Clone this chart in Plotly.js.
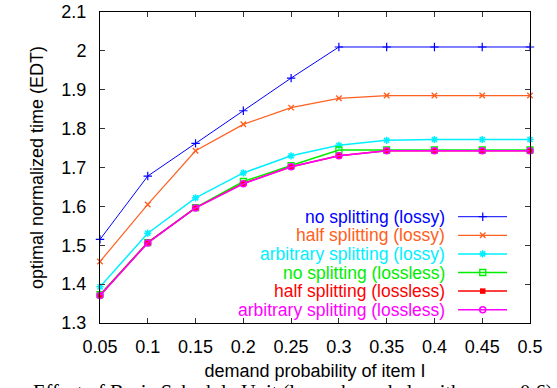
<!DOCTYPE html>
<html>
<head>
<meta charset="utf-8">
<script src="https://cdn.plot.ly/plotly-3.0.1.min.js"></script>
<style>html,body{margin:0;padding:0;background:#fff;}#chart{width:557px;height:388px;}</style>
</head>
<body>
<div id="chart"></div>
<script>
// ---- data ----
const demandProb = [0.05, 0.1, 0.15, 0.2, 0.25, 0.3, 0.35, 0.4, 0.45, 0.5];
const noSplitLossy        = [1.515, 1.678, 1.762, 1.846, 1.930, 2.010, 2.010, 2.010, 2.010, 2.010];
const halfSplitLossy      = [1.458, 1.605, 1.743, 1.811, 1.854, 1.878, 1.885, 1.885, 1.885, 1.885];
const arbSplitLossy       = [1.393, 1.531, 1.622, 1.686, 1.730, 1.757, 1.770, 1.772, 1.772, 1.772];
const noSplitLossless     = [1.373, 1.507, 1.597, 1.664, 1.705, 1.745, 1.745, 1.745, 1.745, 1.745];
const halfSplitLossless   = [1.371, 1.507, 1.596, 1.659, 1.702, 1.730, 1.743, 1.743, 1.743, 1.743];
const arbSplitLossless    = [1.371, 1.506, 1.596, 1.658, 1.702, 1.730, 1.743, 1.743, 1.743, 1.743];
const seriesNames = ["no splitting (lossy)", "half splitting (lossy)", "arbitrary splitting (lossy)",
                     "no splitting (lossless)", "half splitting (lossless)", "arbitrary splitting (lossless)"];
const xTickVals = [0.05, 0.1, 0.15, 0.2, 0.25, 0.3, 0.35, 0.4, 0.45, 0.5];
const xTickText = ["0.05", "0.1", "0.15", "0.2", "0.25", "0.3", "0.35", "0.4", "0.45", "0.5"];
const yTickVals = [1.3, 1.4, 1.5, 1.6, 1.7, 1.8, 1.9, 2.0, 2.1];
const yTickText = ["1.3", "1.4", "1.5", "1.6", "1.7", "1.8", "1.9", "2", "2.1"];
const xTitle = "demand probability of item I";
const yTitle = "optimal normalized time (EDT)";
const caption = "Effect of Basic Schedule Unit (lower bound algorithm, \u03b1 = 0.6)";

// ---- styles ----
const allValues = [noSplitLossy, halfSplitLossy, arbSplitLossy, noSplitLossless, halfSplitLossless, arbSplitLossless];
const styles = [
  {color: "#0000ff", width: 1,   symbol: "cross-thin-open",  size: 6, mlw: 1.2},
  {color: "#ff6020", width: 1.2, symbol: "x-thin-open",      size: 5.5, mlw: 1.4},
  {color: "#00f0ff", width: 1.5, symbol: "asterisk-open",    size: 6, mlw: 1.5},
  {color: "#00ee00", width: 1.5, symbol: "square-open",      size: 6, mlw: 1.3},
  {color: "#ff0000", width: 1.5, symbol: "square",           size: 5.5, mlw: 0},
  {color: "#ff00ff", width: 1.5, symbol: "circle-open",      size: 6, mlw: 1.5}
];

const FONT = "Liberation Sans, Arial, sans-serif";
const FS = 18;
const KEY_FS = 17.5;
const traces = [];
allValues.forEach((vals, i) => {
  const s = styles[i];
  traces.push({
    x: demandProb, y: vals, type: "scatter", mode: "lines+markers", name: seriesNames[i],
    line: {color: s.color, width: s.width},
    marker: {symbol: s.symbol, size: s.size, color: s.color, line: {color: s.color, width: s.mlw}},
    showlegend: false, hoverinfo: "skip", cliponaxis: false
  });
});

// custom gnuplot-style key (text right-aligned, sample on the right), drawn on a pixel overlay axis
const plotL = 99.5, plotR = 530, plotT = 12, plotB = 323;
const keyRows = [216.7, 235.3, 253.9, 272.5, 291.1, 309.7];
const keyTextRight = 445.7, keyLineL = 458, keyLineR = 507, keyMark = 482.7;
const annotations = [];
seriesNames.forEach((nm, i) => {
  const s = styles[i];
  traces.push({
    x: [keyLineL, keyMark, keyLineR], y: [keyRows[i], keyRows[i], keyRows[i]],
    xaxis: "x2", yaxis: "y2", type: "scatter", mode: "lines+markers", showlegend: false, hoverinfo: "skip",
    line: {color: s.color, width: s.width},
    marker: {symbol: s.symbol, size: s.size, color: s.color, opacity: [0, 1, 0], line: {color: s.color, width: s.mlw}}
  });
  annotations.push({
    xref: "x2", yref: "y2", x: keyTextRight, y: keyRows[i], xanchor: "right", yanchor: "middle",
    text: nm, showarrow: false, borderpad: 0, font: {family: FONT, size: KEY_FS, color: s.color}
  });
});
annotations.push({
  xref: "paper", yref: "paper", x: (30 - plotL) / (plotR - plotL), y: (plotB - 379) / (plotB - plotT),
  xanchor: "left", yanchor: "top", text: caption, showarrow: false,
  font: {family: "Liberation Serif, Times New Roman, serif", size: 20.5, color: "#000"}
});

const axisCommon = {
  showgrid: false, zeroline: false, showline: true, linecolor: "#000", linewidth: 1,
  mirror: "allticks", ticks: "inside", ticklen: 5, tickwidth: 1, tickcolor: "#333",
  tickfont: {family: FONT, size: FS, color: "#000"}, fixedrange: true
};

const layout = {
  width: 557, height: 388,
  margin: {l: plotL, r: 557 - plotR, t: plotT, b: 388 - plotB, pad: 0},
  paper_bgcolor: "#fff", plot_bgcolor: "#fff",
  showlegend: false,
  xaxis: Object.assign({}, axisCommon, {
    range: [0.05, 0.5], tickvals: xTickVals, ticktext: xTickText, ticklabelstandoff: 7,
    title: {text: xTitle, font: {family: FONT, size: FS, color: "#000"}, standoff: 8}
  }),
  yaxis: Object.assign({}, axisCommon, {
    range: [1.3, 2.1], tickvals: yTickVals, ticktext: yTickText, ticklabelstandoff: 9,
    title: {text: yTitle, font: {family: FONT, size: FS, color: "#000"}, standoff: 13}
  }),
  xaxis2: {overlaying: "x", range: [plotL, plotR], visible: false, fixedrange: true},
  yaxis2: {overlaying: "y", range: [plotB, plotT], visible: false, fixedrange: true},
  annotations: annotations
};

Plotly.newPlot("chart", traces, layout, {staticPlot: true, displayModeBar: false});
</script>
</body>
</html>
